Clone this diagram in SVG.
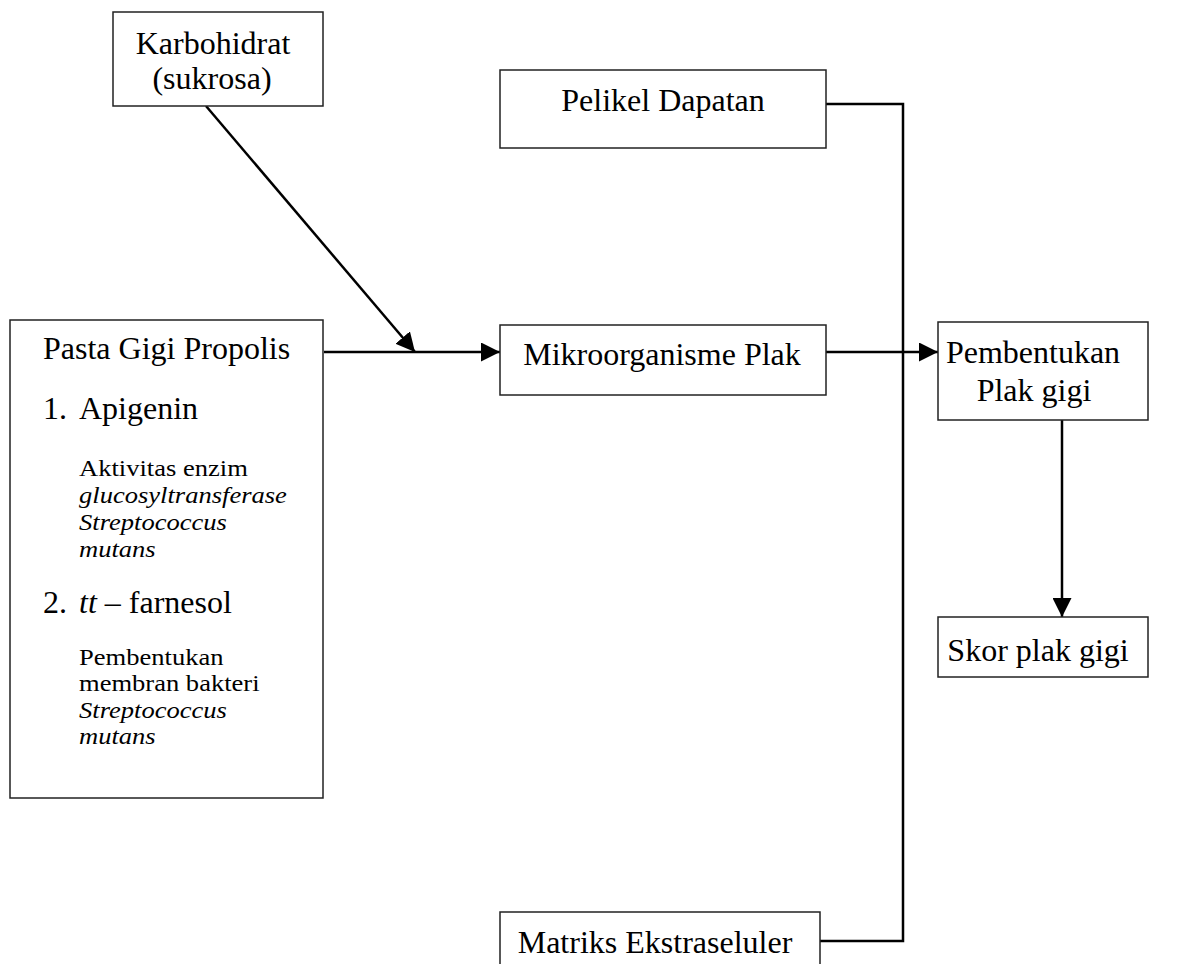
<svg xmlns="http://www.w3.org/2000/svg" width="1189" height="964" viewBox="0 0 1189 964">
<style>
.box{fill:#fff;stroke:#222;stroke-width:1.5}
.lg{font-family:"Liberation Serif","Times New Roman",serif;font-size:32px;fill:#000}
.sm{font-family:"Liberation Serif","Times New Roman",serif;font-size:23.5px;fill:#000}
.c{text-anchor:middle}
.it{font-style:italic}
.ln{fill:none;stroke:#000;stroke-width:2.5}
</style>
<defs>
<marker id="ah2" viewBox="0 0 10 10" refX="10" refY="5" markerWidth="19" markerHeight="19" markerUnits="userSpaceOnUse" orient="auto">
<path d="M0,0 L10,5 L0,10 z" fill="#000"/>
</marker>
</defs>
<rect width="1189" height="964" fill="#fff"/>
<g id="connectors">
<line class="ln" x1="206" y1="106" x2="415" y2="352" marker-end="url(#ah2)"/>
<line class="ln" x1="324" y1="352" x2="500" y2="352" marker-end="url(#ah2)"/>
<line class="ln" x1="826" y1="352" x2="938" y2="352" marker-end="url(#ah2)"/>
<polyline class="ln" points="826,104 903,104 903,941 820,941"/>
<line class="ln" x1="1062" y1="420" x2="1062" y2="617" marker-end="url(#ah2)"/>
</g>
<g id="karbohidrat">
<rect class="box" x="113" y="12" width="210" height="94"/>
<text class="lg c" x="213" y="54">Karbohidrat</text>
<text class="lg c" x="212" y="89">(sukrosa)</text>
</g>
<g id="pelikel">
<rect class="box" x="500" y="70" width="326" height="78"/>
<text class="lg c" x="663" y="111">Pelikel Dapatan</text>
</g>
<g id="pasta">
<rect class="box" x="10" y="320" width="313" height="478"/>
<text class="lg" x="43" y="359">Pasta Gigi Propolis</text>
<text class="lg" x="43" y="419">1.</text>
<text class="lg" x="79" y="419">Apigenin</text>
<g transform="translate(79,0) scale(1.13,1)">
<text class="sm" x="0" y="476">Aktivitas enzim</text>
<text class="sm it" x="0" y="503">glucosyltransferase</text>
<text class="sm it" x="0" y="530">Streptococcus</text>
<text class="sm it" x="0" y="557">mutans</text>
</g>
<text class="lg" x="43" y="613">2.</text>
<text class="lg" x="79" y="613"><tspan class="it">tt</tspan> – farnesol</text>
<g transform="translate(79,0) scale(1.13,1)">
<text class="sm" x="0" y="665">Pembentukan</text>
<text class="sm" x="0" y="691.5">membran bakteri</text>
<text class="sm it" x="0" y="718">Streptococcus</text>
<text class="sm it" x="0" y="744.5">mutans</text>
</g>
</g>
<g id="mikroorganisme">
<rect class="box" x="500" y="325" width="326" height="70"/>
<text class="lg c" x="662" y="365">Mikroorganisme Plak</text>
</g>
<g id="pembentukan">
<rect class="box" x="938" y="322" width="210" height="98"/>
<text class="lg c" x="1033" y="363">Pembentukan</text>
<text class="lg c" x="1034" y="401">Plak gigi</text>
</g>
<g id="skor">
<rect class="box" x="938" y="617" width="210" height="60"/>
<text class="lg c" x="1038" y="661">Skor plak gigi</text>
</g>
<g id="matriks">
<rect class="box" x="500" y="912" width="320" height="60"/>
<text class="lg c" x="655" y="953">Matriks Ekstraseluler</text>
</g>
</svg>
